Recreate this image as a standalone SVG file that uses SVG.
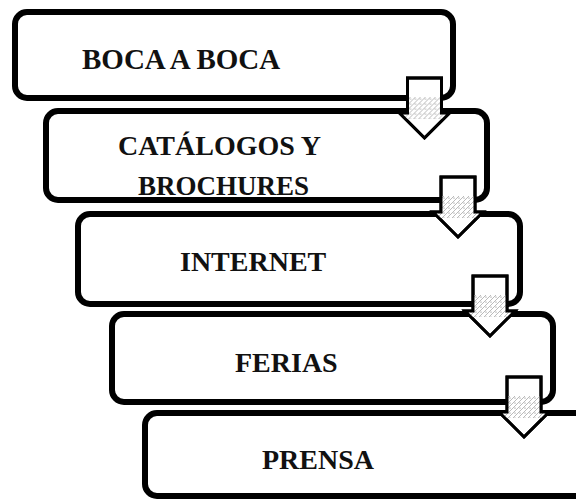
<svg xmlns="http://www.w3.org/2000/svg" width="576" height="501" viewBox="0 0 576 501">
<style>
.box{fill:#fff;stroke:#000;stroke-width:6}
.lbl{font-family:"Liberation Serif","Times New Roman",serif;font-weight:bold;font-size:28px;fill:#111}
.arr{fill:#fff;stroke:#000;stroke-width:3;stroke-linejoin:miter}
</style>
<defs>
<pattern id="hatch" width="5" height="5" patternUnits="userSpaceOnUse">
<rect width="5" height="5" fill="#fff"/>
<path d="M0,5 L5,0" stroke="#aaa" stroke-width="0.8"/>
<circle cx="1" cy="1" r="0.6" fill="#777"/>
</pattern>
<path id="arrowShape" d="M-17,0 H17 V35 H25 L0,60 L-25,35 H-17 Z"/>
<clipPath id="arrowClip" clipPathUnits="userSpaceOnUse">
<path d="M-17,0 H17 V35 H25 L0,60 L-25,35 H-17 Z"/>
</clipPath>
</defs>
<rect width="576" height="501" fill="#fff"/>
<g id="node-boca">
<rect class="box" x="15" y="12" width="438" height="86" rx="12"/>
<text class="lbl" x="82" y="69" style="font-size:29px">BOCA A BOCA</text>
</g>
<g id="node-catalogos">
<rect class="box" x="46" y="111" width="441" height="89" rx="12"/>
<text class="lbl" x="118" y="155">CATÁLOGOS Y</text>
<text class="lbl" x="138" y="195" style="font-size:27px">BROCHURES</text>
</g>
<g id="node-internet">
<rect class="box" x="78" y="214" width="442" height="90" rx="12"/>
<text class="lbl" x="180" y="271">INTERNET</text>
</g>
<g id="node-ferias">
<rect class="box" x="112" y="314" width="441" height="88" rx="12"/>
<text class="lbl" x="235" y="372">FERIAS</text>
</g>
<g id="node-prensa">
<rect class="box" x="145" y="413" width="450" height="83" rx="12"/>
<text class="lbl" x="262" y="469">PRENSA</text>
</g>
<g id="connectors">
<g transform="translate(424.5,78)">
<use href="#arrowShape" class="arr"/>
<rect x="-26" y="19" width="52" height="22" fill="url(#hatch)" clip-path="url(#arrowClip)"/>
<use href="#arrowShape" fill="none" stroke="#000" stroke-width="3"/>
</g>
<g transform="translate(458,177)">
<use href="#arrowShape" class="arr"/>
<rect x="-26" y="19" width="52" height="22" fill="url(#hatch)" clip-path="url(#arrowClip)"/>
<use href="#arrowShape" fill="none" stroke="#000" stroke-width="3"/>
</g>
<g transform="translate(490,276)">
<use href="#arrowShape" class="arr"/>
<rect x="-26" y="19" width="52" height="22" fill="url(#hatch)" clip-path="url(#arrowClip)"/>
<use href="#arrowShape" fill="none" stroke="#000" stroke-width="3"/>
</g>
<g transform="translate(524,377)">
<use href="#arrowShape" class="arr"/>
<rect x="-26" y="19" width="52" height="22" fill="url(#hatch)" clip-path="url(#arrowClip)"/>
<use href="#arrowShape" fill="none" stroke="#000" stroke-width="3"/>
</g>
</g>
</svg>
